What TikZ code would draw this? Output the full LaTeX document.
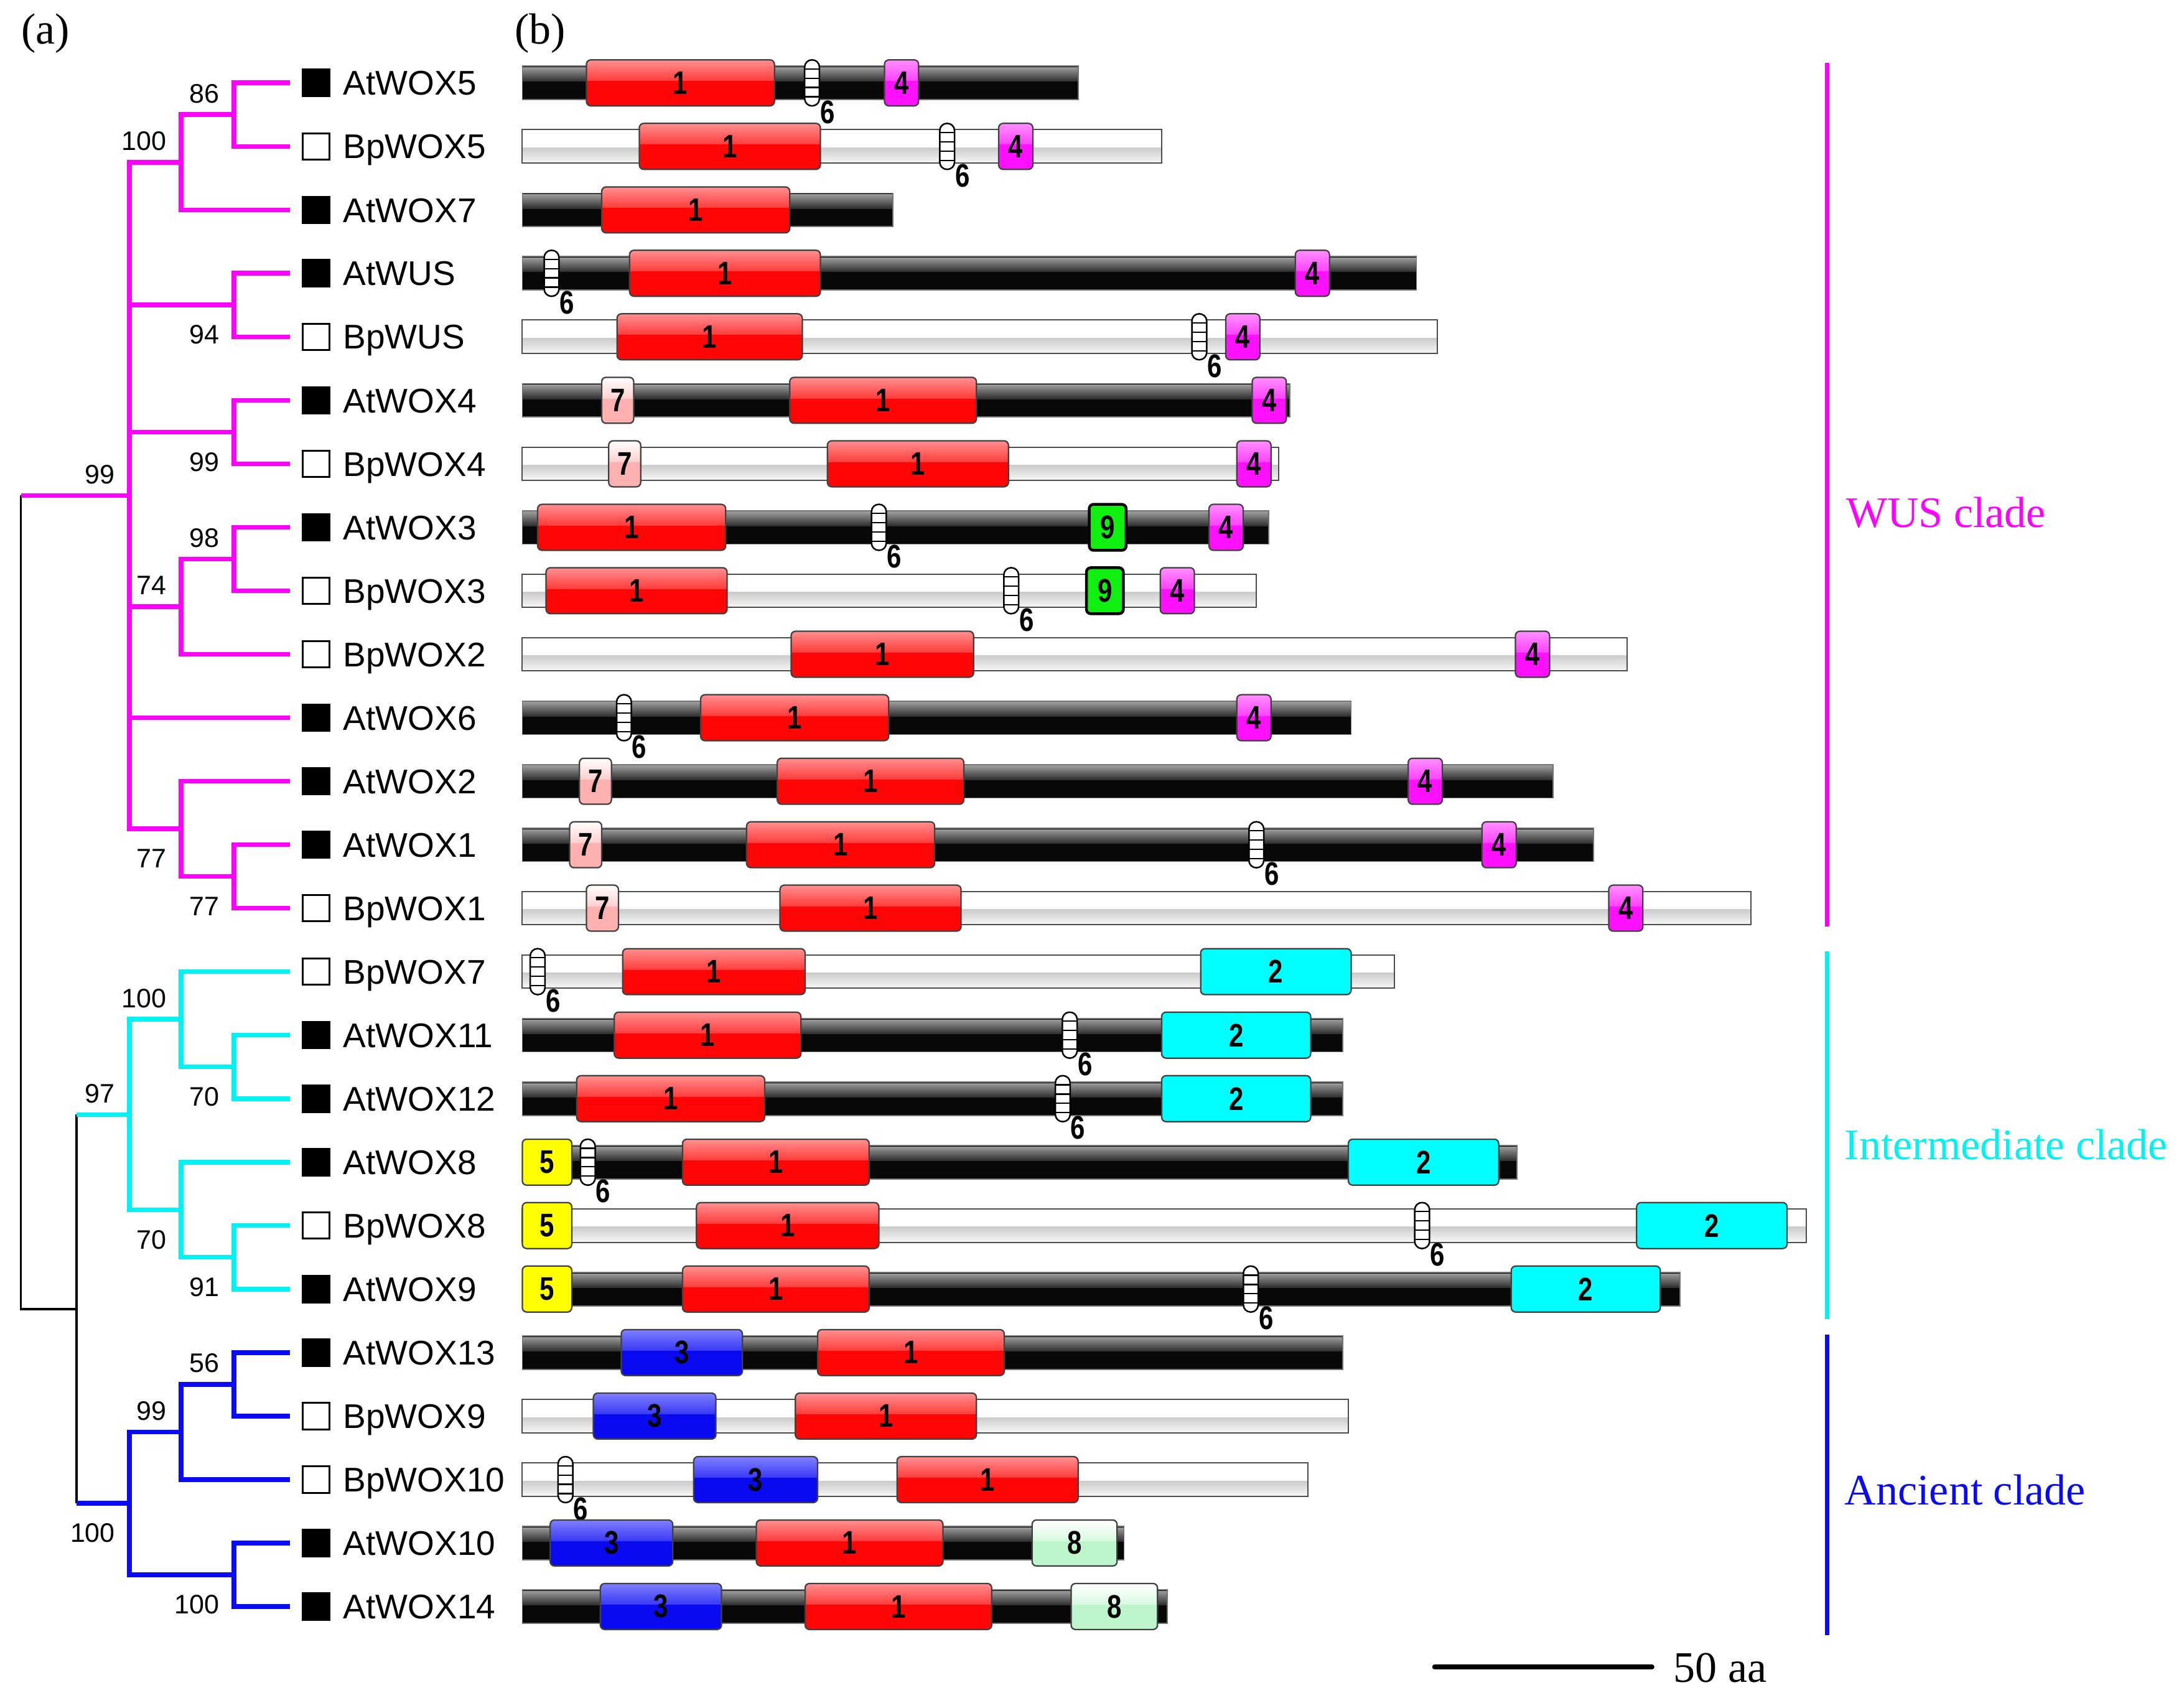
\documentclass[tikz,border=0pt]{standalone}
\usepackage{fontspec}
\setmainfont{Liberation Serif}
\newfontfamily\labfont{Liberation Sans}
\newfontfamily\motfont{Liberation Sans}[FakeStretch=0.8]
\definecolor{mag}{HTML}{FF00FF}
\definecolor{cyn}{HTML}{00F2F2}
\definecolor{blu}{HTML}{0A0AF5}
\definecolor{mred}{HTML}{FF0505}
\definecolor{mredl}{HTML}{FF9090}
\definecolor{mmag}{HTML}{FF10FF}
\definecolor{mmagl}{HTML}{FF90FF}
\definecolor{mblu}{HTML}{0A0AF0}
\definecolor{mblul}{HTML}{8080FF}
\definecolor{mgrn}{HTML}{10F010}
\definecolor{myel}{HTML}{FFFF00}
\definecolor{mcyn}{HTML}{00FFFF}
\definecolor{mpink}{HTML}{FFB0B0}
\definecolor{mmint}{HTML}{BDF5CC}
\newcount\nn
\tikzset{
  treeM/.style={draw=mag, line width=1.5pt},
  treeC/.style={draw=cyn, line width=1.5pt},
  treeB/.style={draw=blu, line width=1.5pt},
  treeK/.style={draw=black, line width=0.7pt},
  boot/.style={anchor=base east, inner sep=0pt, font=\labfont\fontsize{8.6}{10}\selectfont},
  leaflab/.style={anchor=base west, inner sep=0pt, font=\labfont\fontsize{11}{13}\selectfont},
  mlab/.style={inner sep=0pt, font=\motfont\bfseries\fontsize{10.5}{12}\selectfont},
  boxline/.style={draw=black!75, line width=0.45pt},
  cladelab/.style={anchor=base west, inner sep=0pt, font=\fontsize{14}{16}\selectfont},
}
% glossy / flat motif box: [border] x1 x2 y base light label
\newcommand\motif[7][boxline]{%
  \begin{scope}
    \clip[rounded corners=1.4pt] (#2,#4-16.5) rectangle (#3,#4+16.5);
    \fill[#5] (#2,#4-16.5) rectangle (#3,#4+16.5);
    \shade[top color=#6, bottom color=#5!60!#6] (#2,#4-16.5) rectangle (#3,#4-1.5);
  \end{scope}
  \draw[#1, rounded corners=1.4pt] (#2,#4-16.5) rectangle (#3,#4+16.5);
  \global\advance\nn by 1
  \node[mlab] (n\the\nn) at ({(#2+#3)/2},#4) {#7};
}
\newcommand\mone[3]{\motif{#1}{#2}{#3}{mred}{mredl}{1}}
\newcommand\mtwo[3]{\motif{#1}{#2}{#3}{mcyn}{mcyn}{2}}
\newcommand\mthree[3]{\motif{#1}{#2}{#3}{mblu}{mblul}{3}}
\newcommand\mfour[2]{\motif{#1}{#1+24.5}{#2}{mmag}{mmagl}{4}}
\newcommand\mfive[1]{\motif{375}{410.5}{#1}{myel}{myel}{5}}
\newcommand\mseven[2]{\motif{#1}{#1+23}{#2}{mpink}{white}{7}}
\newcommand\mnine[2]{\motif[draw=black, line width=0.9pt]{#1}{#1+26.5}{#2}{mgrn}{mgrn}{9}}
\newcommand\meight[3]{\motif{#1}{#2}{#3}{mmint}{white}{8}}
\newcommand\six[2]{%
  \draw[fill=white, line width=0.5pt, rounded corners=2.3pt] (#1-5.3,#2-16.5) rectangle (#1+5.3,#2+16.5);
  \foreach \d in {-10,-3.3,3.3,10} \draw[line width=0.45pt] (#1-5.3,#2+\d) -- (#1+5.3,#2+\d);
  \global\advance\nn by 1
  \node[mlab] (n\the\nn) at (#1+11,#2+21) {6};
}
\newcommand\bbar[2]{%
  \fill[black!97] (375,#1-12) rectangle (#2,#1+12);
  \shade[top color=black!40, bottom color=black!82] (375,#1-11) rectangle (#2,#1-1);
  \draw[black!55, line width=0.35pt] (375,#1-12) rectangle (#2,#1+12);
}
\newcommand\gbar[2]{%
  \fill[white] (375,#1-12) rectangle (#2,#1+12);
  \shade[top color=black!20, bottom color=black!3] (375,#1+1) rectangle (#2,#1+12);
  \draw[black!70, line width=0.4pt] (375,#1-12) rectangle (#2,#1+12);
}
\newcommand\leaf[3]{%
  \draw[fill=#3, line width=0.6pt] (217.5,#1-9.5) rectangle (236.5,#1+9.5);
  \global\advance\nn by 1
  \node[leaflab] (n\the\nn) at (246,#1+8.8) {#2};
}
\begin{document}
\begin{tikzpicture}[x=0.4477pt, y=-0.4477pt, line join=miter]
\useasboundingbox (0,0) rectangle (1568,1219);
% panel labels
\node[anchor=base west, inner sep=0pt, font=\fontsize{14}{16}\selectfont] (pa) at (15,31.6) {(a)};
\node[anchor=base west, inner sep=0pt, font=\fontsize{14}{16}\selectfont] (pb) at (369,31.6) {(b)};
% ---- tree: black backbone
\draw[treeK] (55,800.2) -- (55,1079.35);
\draw[treeK] (55,939.8) -- (15,939.8) -- (15,355.8);
% WUS clade
\draw[treeM] (208,59.5) -| (168,105.1) -- (208,105.1);
\draw[treeM] (168,82.3) -| (130,150.7) -- (208,150.7);
\draw[treeM] (208,196.2) -| (168,241.8) -- (208,241.8);
\draw[treeM] (208,287.4) -| (168,333.0) -- (208,333.0);
\draw[treeM] (208,378.6) -| (168,424.1) -- (208,424.1);
\draw[treeM] (168,401.35) -| (130,469.7) -- (208,469.7);
\draw[treeM] (208,606.5) -| (168,652.0) -- (208,652.0);
\draw[treeM] (208,560.9) -| (130,629.25) -- (168,629.25);
\draw[treeM] (130,116.5) -| (93,595.1) -- (130,595.1);
\draw[treeM] (93,219.0) -- (168,219.0);
\draw[treeM] (93,310.2) -- (168,310.2);
\draw[treeM] (93,435.5) -- (130,435.5);
\draw[treeM] (93,515.3) -- (208,515.3);
\draw[treeM] (15,355.8) -- (93,355.8);
% Intermediate clade
\draw[treeC] (208,743.2) -| (168,788.8) -- (208,788.8);
\draw[treeC] (208,697.6) -| (130,766.0) -- (168,766.0);
\draw[treeC] (208,879.9) -| (168,925.5) -- (208,925.5);
\draw[treeC] (208,834.4) -| (130,902.7) -- (168,902.7);
\draw[treeC] (130,731.8) -| (93,868.6) -- (130,868.6);
\draw[treeC] (55,800.2) -- (93,800.2);
% Ancient clade
\draw[treeB] (208,971.1) -| (168,1016.7) -- (208,1016.7);
\draw[treeB] (168,993.9) -| (130,1062.3) -- (208,1062.3);
\draw[treeB] (208,1107.8) -| (168,1153.4) -- (208,1153.4);
\draw[treeB] (130,1028.1) -| (93,1130.6) -- (168,1130.6);
\draw[treeB] (55,1079.35) -- (93,1079.35);
% bootstrap values
\node[boot] (b1) at (158,73.8) {86};
\node[boot] (b2) at (120,108) {100};
\node[boot] (b3) at (158,247) {94};
\node[boot] (b4) at (158,338.2) {99};
\node[boot] (b5) at (83,347.3) {99};
\node[boot] (b6) at (158,392.85) {98};
\node[boot] (b7) at (120,427) {74};
\node[boot] (b8) at (120,623.1) {77};
\node[boot] (b9) at (158,657.25) {77};
\node[boot] (b10) at (120,723.3) {100};
\node[boot] (b11) at (83,791.7) {97};
\node[boot] (b12) at (158,794) {70};
\node[boot] (b13) at (120,896.6) {70};
\node[boot] (b14) at (158,930.7) {91};
\node[boot] (b15) at (158,985.4) {56};
\node[boot] (b16) at (120,1019.6) {99};
\node[boot] (b17) at (83,1107.35) {100};
\node[boot] (b18) at (158,1158.6) {100};
% leaves
\leaf{59.5}{AtWOX5}{black}
\leaf{105.1}{BpWOX5}{white}
\leaf{150.7}{AtWOX7}{black}
\leaf{196.2}{AtWUS}{black}
\leaf{241.8}{BpWUS}{white}
\leaf{287.4}{AtWOX4}{black}
\leaf{333.0}{BpWOX4}{white}
\leaf{378.6}{AtWOX3}{black}
\leaf{424.1}{BpWOX3}{white}
\leaf{469.7}{BpWOX2}{white}
\leaf{515.3}{AtWOX6}{black}
\leaf{560.9}{AtWOX2}{black}
\leaf{606.5}{AtWOX1}{black}
\leaf{652.0}{BpWOX1}{white}
\leaf{697.6}{BpWOX7}{white}
\leaf{743.2}{AtWOX11}{black}
\leaf{788.8}{AtWOX12}{black}
\leaf{834.4}{AtWOX8}{black}
\leaf{879.9}{BpWOX8}{white}
\leaf{925.5}{AtWOX9}{black}
\leaf{971.1}{AtWOX13}{black}
\leaf{1016.7}{BpWOX9}{white}
\leaf{1062.3}{BpWOX10}{white}
\leaf{1107.8}{AtWOX10}{black}
\leaf{1153.4}{AtWOX14}{black}
% ---- protein motifs
% 1 AtWOX5
\bbar{59.5}{774}\mone{421}{556}{59.5}\six{583}{59.5}\mfour{635}{59.5}
% 2 BpWOX5
\gbar{105.1}{834}\mone{459}{589}{105.1}\six{680}{105.1}\mfour{717}{105.1}
% 3 AtWOX7
\bbar{150.7}{641}\mone{432}{567}{150.7}
% 4 AtWUS
\bbar{196.2}{1017}\six{396}{196.2}\mone{452}{589}{196.2}\mfour{930}{196.2}
% 5 BpWUS
\gbar{241.8}{1032}\mone{443}{576}{241.8}\six{861}{241.8}\mfour{880}{241.8}
% 6 AtWOX4
\bbar{287.4}{926}\mseven{432}{287.4}\mone{567}{701}{287.4}\mfour{899}{287.4}
% 7 BpWOX4
\gbar{333.0}{918}\mseven{437}{333.0}\mone{594}{724}{333.0}\mfour{888}{333.0}
% 8 AtWOX3
\bbar{378.6}{911}\mone{386}{521}{378.6}\six{631}{378.6}\mnine{782}{378.6}\mfour{868}{378.6}
% 9 BpWOX3
\gbar{424.1}{902}\mone{392}{522}{424.1}\six{726}{424.1}\mnine{780}{424.1}\mfour{833}{424.1}
% 10 BpWOX2
\gbar{469.7}{1168}\mone{568}{699}{469.7}\mfour{1088}{469.7}
% 11 AtWOX6
\bbar{515.3}{970}\six{448}{515.3}\mone{503}{638}{515.3}\mfour{888}{515.3}
% 12 AtWOX2
\bbar{560.9}{1115}\mseven{416}{560.9}\mone{558}{692}{560.9}\mfour{1011}{560.9}
% 13 AtWOX1
\bbar{606.5}{1144}\mseven{409}{606.5}\mone{536}{671}{606.5}\six{902}{606.5}\mfour{1064}{606.5}
% 14 BpWOX1
\gbar{652.0}{1257}\mseven{421}{652.0}\mone{560}{690}{652.0}\mfour{1155}{652.0}
% 15 BpWOX7
\gbar{697.6}{1001}\six{386}{697.6}\mone{447}{578}{697.6}\mtwo{862}{970}{697.6}
% 16 AtWOX11
\bbar{743.2}{964}\mone{441}{575}{743.2}\six{768}{743.2}\mtwo{834}{941}{743.2}
% 17 AtWOX12
\bbar{788.8}{964}\mone{414}{549}{788.8}\six{763}{788.8}\mtwo{834}{941}{788.8}
% 18 AtWOX8
\bbar{834.4}{1089}\mfive{834.4}\six{422}{834.4}\mone{490}{624}{834.4}\mtwo{968}{1076}{834.4}
% 19 BpWOX8
\gbar{879.9}{1297}\mfive{879.9}\mone{500}{631}{879.9}\six{1021}{879.9}\mtwo{1175}{1283}{879.9}
% 20 AtWOX9
\bbar{925.5}{1206}\mfive{925.5}\mone{490}{624}{925.5}\six{898}{925.5}\mtwo{1085}{1192}{925.5}
% 21 AtWOX13
\bbar{971.1}{964}\mthree{446}{533}{971.1}\mone{587}{721}{971.1}
% 22 BpWOX9
\gbar{1016.7}{968}\mthree{426}{514}{1016.7}\mone{571}{701}{1016.7}
% 23 BpWOX10
\gbar{1062.3}{939}\six{406}{1062.3}\mthree{498}{587}{1062.3}\mone{644}{774}{1062.3}
% 24 AtWOX10
\bbar{1107.8}{807}\mthree{395}{483}{1107.8}\mone{543}{677}{1107.8}\meight{741}{802}{1107.8}
% 25 AtWOX14
\bbar{1153.4}{838}\mthree{431}{518}{1153.4}\mone{578}{712}{1153.4}\meight{769}{831}{1153.4}
% ---- clade bars
\draw[mag, line width=1.4pt] (1312,45) -- (1312,665);
\draw[cyn, line width=1.4pt] (1312,683) -- (1312,947);
\draw[blu, line width=1.4pt] (1312,958) -- (1312,1174);
\node[cladelab, text=mag] (c1) at (1325,378.5) {WUS clade};
\node[cladelab, text=cyn] (c2) at (1324,832.5) {Intermediate clade};
\node[cladelab, text=blu] (c3) at (1324,1080.5) {Ancient clade};
% ---- scale bar
\coordinate (s1) at (1030,1196.8);
\coordinate (s2) at (1186,1196.8);
\draw[line width=1.6pt, line cap=round] (s1) -- (s2);
\node[anchor=base west, inner sep=0pt, font=\fontsize{14}{16}\selectfont] (sl) at (1201,1207.6) {50 aa};
\end{tikzpicture}
\end{document}
